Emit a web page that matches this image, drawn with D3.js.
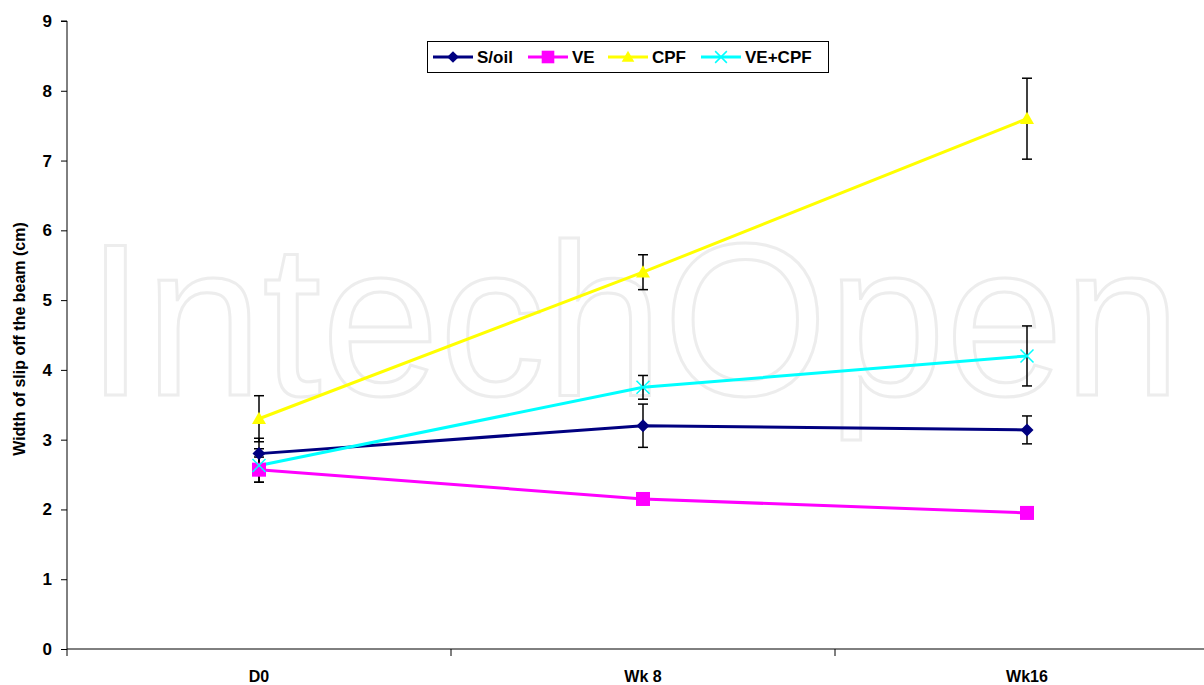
<!DOCTYPE html>
<html>
<head>
<meta charset="utf-8">
<script src="https://cdn.jsdelivr.net/npm/d3@7"></script>
<style>
  body { margin: 0; background: #fff; }
  svg { display: block; font-family: "Liberation Sans", Arial, sans-serif; }
</style>
</head>
<body>
<svg id="chart" width="1204" height="685"></svg>
<script>
//  data
const categories = ["D0", "Wk 8", "Wk16"];
const series_names = ["S/oil", "VE", "CPF", "VE+CPF"];
const series_colors = ["#000080", "#ff00ff", "#ffff00", "#00ffff"];
const series_symbols = ["diamond", "square", "triangle", "cross"];
const soil_values = [2.8, 3.2, 3.14];
const soil_errors = [0.22, 0.31, 0.2];
const ve_values = [2.57, 2.15, 1.95];
const ve_errors = [0.18, 0.05, 0.05];
const cpf_values = [3.3, 5.4, 7.6];
const cpf_errors = [0.33, 0.25, 0.58];
const vecpf_values = [2.63, 3.75, 4.2];
const vecpf_errors = [0.24, 0.17, 0.43];
const y_ticks = [0, 1, 2, 3, 4, 5, 6, 7, 8, 9];
const y_label = "Width of slip off the beam (cm)";

const all_values = [soil_values, ve_values, cpf_values, vecpf_values];
const all_errors = [soil_errors, ve_errors, cpf_errors, vecpf_errors];

//  draw chart
function draw_chart() {
  const margin = ({top: 21, left: 67, bottom: 36});
  const w = 1204, h = 685;
  const svg = d3.select("#chart");

  const x = d3.scaleBand().domain(categories).range([margin.left, margin.left + 3 * 384]).padding(0);
  const y = d3.scaleLinear().domain([0, 9]).range([h - margin.bottom, margin.top]);
  const cx = d => x(d) + x.bandwidth() / 2;

  //  watermark (outlined letters)
  svg.append("text")
     .attr("x", 86)
     .attr("y", 395)
     .attr("textLength", 1095)
     .attr("lengthAdjust", "spacingAndGlyphs")
     .style("font-size", "218px")
     .style("fill", "none")
     .style("stroke", "#ededed")
     .style("stroke-width", 3)
     .text("IntechOpen");

  //  axes
  const yAxis = g => g
    .attr("transform", `translate(${margin.left},0)`)
    .call(d3.axisLeft(y).tickValues(y_ticks).tickSize(6).tickPadding(9).tickFormat(d3.format("d")));

  const xAxis = g => g
    .attr("transform", `translate(0,${h - margin.bottom})`)
    .call(d3.axisBottom(x).tickSize(0).tickPadding(22));

  svg.append("g")
     .style("font-size", "17px")
     .style("font-weight", "bold")
     .call(yAxis)
     .call(g => g.select(".domain").attr("d", `M-6,${y(9)}H0V${y(0)}`));

  svg.append("g")
     .style("font-size", "16px")
     .style("font-weight", "bold")
     .call(xAxis)
     .call(g => g.select(".domain").attr("d", `M${margin.left},0H${w}`));

  //  category separators on the x axis
  svg.append("g")
     .selectAll("line")
     .data(categories)
     .join("line")
     .attr("x1", d => x(d))
     .attr("x2", d => x(d))
     .attr("y1", h - margin.bottom)
     .attr("y2", h - margin.bottom + 7)
     .attr("stroke", "#000");

  svg.selectAll("text").attr("fill", "#000");

  //  y axis title
  svg.append("text")
     .attr("transform", `translate(25,339) rotate(-90)`)
     .attr("text-anchor", "middle")
     .style("font-size", "16px")
     .style("font-weight", "bold")
     .text(y_label);

  const line = d3.line().x(d => cx(d.cat)).y(d => y(d.v));
  const rows = all_values.map((vals, s) => vals.map((v, i) => ({cat: categories[i], v: v, e: all_errors[s][i]})));

  //  lines
  rows.forEach((r, s) => {
    svg.append("path")
       .datum(r)
       .attr("d", line)
       .attr("fill", "none")
       .attr("stroke", series_colors[s])
       .attr("stroke-width", 3);
  });

  //  error bars
  rows.forEach((r, s) => {
    const g = svg.append("g").attr("stroke", "#000").attr("stroke-width", 1.5);
    r.forEach(d => {
      const px = cx(d.cat);
      g.append("line").attr("x1", px).attr("x2", px).attr("y1", y(d.v + d.e)).attr("y2", y(d.v - d.e));
      g.append("line").attr("x1", px - 5).attr("x2", px + 5).attr("y1", y(d.v + d.e)).attr("y2", y(d.v + d.e));
      g.append("line").attr("x1", px - 5).attr("x2", px + 5).attr("y1", y(d.v - d.e)).attr("y2", y(d.v - d.e));
    });
  });

  //  markers
  rows.forEach((r, s) => {
    r.forEach(d => draw_marker(svg, series_symbols[s], series_colors[s], cx(d.cat), y(d.v), 1));
  });

  //  legend
  const lg = svg.append("g");
  lg.append("rect")
    .attr("x", 427.5).attr("y", 41.5).attr("width", 401).attr("height", 31)
    .attr("fill", "#fff").attr("stroke", "#000").attr("stroke-width", 1);
  const leg_x = [433, 528, 608, 701];
  series_names.forEach((name, s) => {
    lg.append("line")
      .attr("x1", leg_x[s]).attr("x2", leg_x[s] + 40)
      .attr("y1", 57).attr("y2", 57)
      .attr("stroke", series_colors[s]).attr("stroke-width", 3);
    draw_marker(lg, series_symbols[s], series_colors[s], leg_x[s] + 20, 57, 0.9);
    lg.append("text")
      .attr("x", leg_x[s] + 44)
      .attr("y", 63)
      .style("font-size", "17px")
      .style("font-weight", "bold")
      .text(name);
  });
}

//  draw one marker
function draw_marker(g, type, color, px, py, k) {
  if (type == "diamond") {
    const s = 6.5 * k;
    g.append("path").attr("d", `M${px},${py - s}L${px + s},${py}L${px},${py + s}L${px - s},${py}Z`)
     .attr("fill", color);
  } else if (type == "square") {
    const s = 14 * k;
    g.append("rect").attr("x", px - s / 2).attr("y", py - s / 2).attr("width", s).attr("height", s)
     .attr("fill", color);
  } else if (type == "triangle") {
    const s = 7 * k;
    g.append("path").attr("d", `M${px},${py - s}L${px + s},${py + s * 0.75}L${px - s},${py + s * 0.75}Z`)
     .attr("fill", color);
  } else {
    const s = 6.5 * k;
    g.append("path").attr("d", `M${px - s},${py - s}L${px + s},${py + s}M${px - s},${py + s}L${px + s},${py - s}`)
     .attr("stroke", color).attr("stroke-width", 1.5).attr("fill", "none");
  }
}

draw_chart();
</script>
</body>
</html>
